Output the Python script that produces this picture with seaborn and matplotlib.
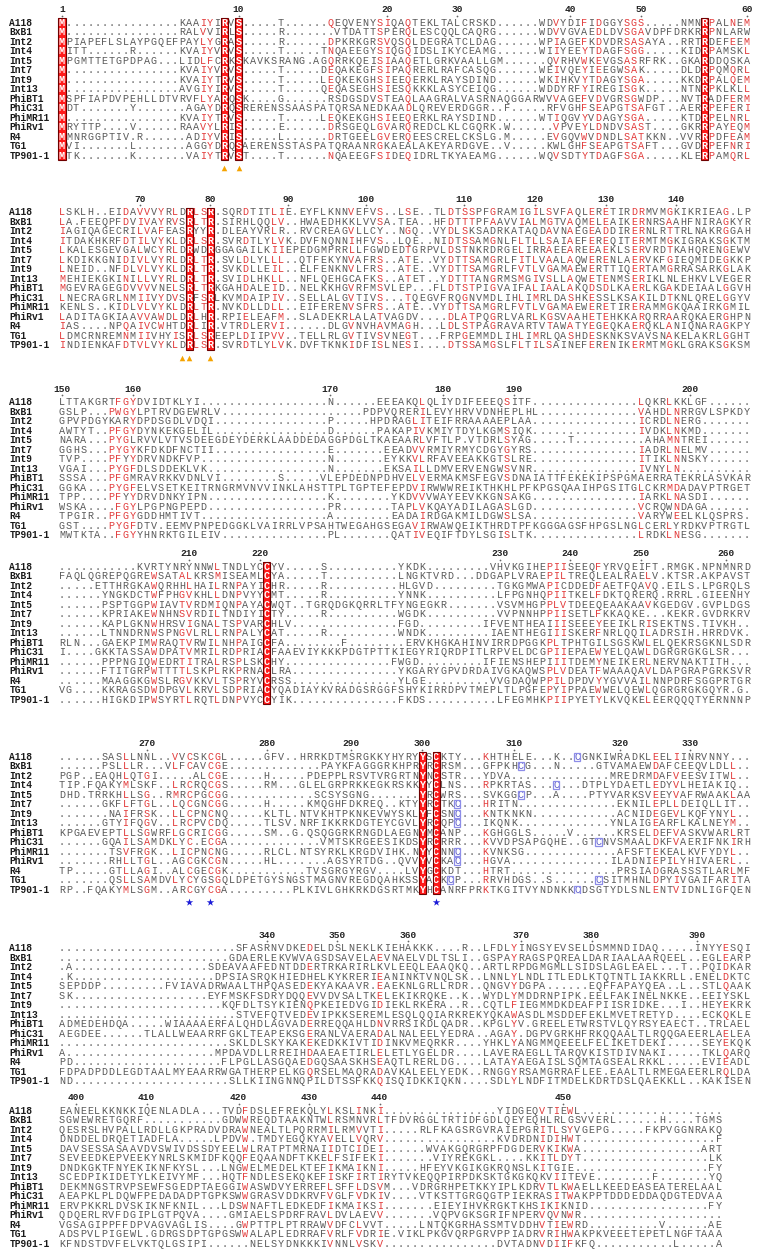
import re
import numpy as np
import pandas as pd
import matplotlib
matplotlib.use("Agg")
import matplotlib.pyplot as plt
from matplotlib.colors import ListedColormap
from matplotlib.patches import Rectangle
import seaborn as sns

# ---------------- data ----------------
NAMES = ["A118", "BxB1", "Int2", "Int4", "Int5", "Int7", "Int9", "Int13",
         "PhiBT1", "PhiC31", "PhiMR11", "PhiRv1", "R4", "TG1", "TP901-1"]

# ".{n}" = run of n gap dots
BLOCK1 = [
    "M.{16}KAAIYIRVS.{5}T.{6}QEQVENYSIQAQTEKLTALCRSKD.{6}WDVYDIFIDGGYSGS.{5}NMNRPALNEM",
    "M.{16}RALVVIRLS.{5}R.{7}VTDATTSPERQLESCQQLCAQRG.{6}WDVVGVAEDLDVSGAVDPFDRKRRPNLARW",
    "MPIAPEFLSLAYPGQEFPAYLYGRAS.{5}R.{6}DPKRKGRSVQSQLDEGRATCLDAG.{6}WPIAGEFKDVDRSASAYA..RRTRDEFEEM",
    "MITT.{6}R.{6}KVAIYVRVS.{5}T.{5}TNQAEEGYSIQGQIDSLIKYCEAMG.{6}WIIYEEYTDAGFSGG.{5}KIDRPAMSKL",
    "MPGMTTETGPDPAG...LIDLFCRKSKAVKSRANG.AGQRRKQEISIAAQETLGRKVAALLGM.{6}QVRHVWKEVGSASRFRK..GKARDDQSKA",
    "M.{16}KVAIYVRVS.{5}T.{5}DEQAKEGFSIPAQRERLRAFCASQG.{6}WEIVQEYIEEGWSAK.{5}DLDRPQMQRL",
    "M.{16}KVAIYTRVS.{5}T.{5}LEQKEKGHSIEEQERKLRAYSDIND.{6}WKIHKVYTDAGYSGA.{5}KKDRPALQEM",
    "M.{16}AVGIYIRVS.{5}T.{5}QEQASEGHSIESQKKKLASYCEIQG.{6}WDDYRFYIREGISGK.{5}NTNRPKLKLL",
    "MSPFIAPDVPEHLLDTVRVFLYARQSK....G.{6}RSDGSDVSTEAQLAAGRALVASRNAQGGARWVVAGEFVDVGRSGWDP...NVTRADFERM",
    "MDT.{7}Y.{7}AGAYDRQSRERENSSAASPATQRSANEDKAADLQREVERDGGR..F.{5}RFVGHFSEAPGTSAFGT..AERRPEFERI",
    "M.{16}KVAIYTRVS.{5}T.{5}LEQKEKGHSIEEQERKLRAYSDIND.{6}WTIQGVYVDAGYSGA.{5}KTDRPELNRL",
    "MRYTTP....V.{6}RAAVYLRIS.{5}E.{6}DRSGEQLGVARQREDCLKLCGQRK.W.{6}VPVEYLDNDVSAST....GKRRPAYEQM",
    "MMNRGGPTIV.R.{6}ADIYVRIS.{5}L.{6}DRTGEELGVERQEESCRELCKSLG.M.{5}EVGQVWVDNDLSATKKN..VVRRPDFEAM",
    "MVI.{7}L.{7}AGGYDRQSAERENSSTASPATQRAANRGKAEALAKEYARDGVE..V.{5}KWLGHFSEAPGTSAFT...GVDRPEFNRI",
    "MTK.{7}K.{7}VAIYTRVST....T.{6}NQAEEGFSIDEQIDRLTKYAEAMG.{6}WQVSDTYTDAGFSGA.{5}KLERPAMQRL",
]
BLOCK2 = [
    "LSKLH..EIDAVVVYRLDRLSR.SQRDTITLIE.EYFLKNNVEFVS..LSE..TLDTSSPFGRAMIGILSVFAQLERETIRDRMVMGKIKRIEAG.LP",
    "LA.FEEQPFDVIVAYRVSRLTR.SIRHLQQLV..HWAEDHKKLVVSA.TEA..HFDTTTPFAAVVIALMGTVAQMELEAIKERNRSAAHFNIRAGKYR",
    "IAGIQAGECRILVAFEASRYYR.DLEAYVRLR..RVCREAGVLLCY..NGQ..VYDLSKSADRKATAQDAVNAEGEADDIRERNLRTTRLNAKRGGAH",
    "ITDAKHKRFDTILVYKLDRLSR.SVRDTLYLVK.DVFNQNNIHFVS..LQE..NIDTSSAMGNLFLTLLSAIAEFEREQITERMTMGKIGRAKSGKTM",
    "LKALESGEVGALWCYRLDRWDRGGAGAILKIIEPEDGMPRRLLFGWDEDTGRPVLDSTNKRDRGELIRRAEEAREEAEKLSERVRDTKAHQRENGEWV",
    "LKDIKKGNIDIVLVYRLDRLTR.SVLDLYLLL..QTFEKYNVAFRS..ATE..VYDTTSAMGRLFITLVAALAQWERENLAERVKFGIEQMIDEGKKP",
    "LNEID..NFDLVLVYKLDRLTR.SVKDLLEIL..ELFENKNVLFRS..ATE..VYDTTSAMGRLFVTLVGAMAEWERTTIQERTAMGRRASARKGLAK",
    "MEHIEKGKINILLVYRLDRLTR.SVIDLHKLL..NFLQEHGCAFKS..ATET..YDTTTANGRMSMGIVSLLAQWETENMSERIKLNLEHKVLVEGER",
    "MGEVRAGEGDVVVVNELSRLTRKGAHDALEID..NELKKHGVRFMSVLEP...FLDTSTPIGVAIFALIAALAKQDSDLKAERLKGAKDEIAALGGVH",
    "LNECRAGRLNMIIVYDVSRFSRLKVMDAIPIV..SELLALGVTIVS...TQEGVFRQGNVMDLIHLIMRLDASHKESSLKSAKILDTKNLQRELGGYV",
    "KENLS..KIDLVLVYKLDRLTR.NVKDLLDLL..EIFERENVSFRS..ATE..VYDTTSAMGRLFVTLVGAMAEWERETIRERAMMGKQAAIRKGMIL",
    "LADITAGKIAAVVAWDLDRLHR.RPIELEAFM..SLADEKRLALATVAGDV....DLATPQGRLVARLKGSVAAHETEHKKARQRRAARQKAERGHPN",
    "IAS....NPQAIVCWHTDRLIR.VTRDLERVI......DLGVNVHAVMAGH...LDLSTPAGRAVARTVTAWATYEGEQKAERQKLANIQNARAGKPY",
    "LDMCRNREMNMIIVHYISRLSREEPLDIIPVV..TELLRLGVTIVSVNEGT...FRPGEMMDLIHLIMRLQASHDESKNKSVAVSNAKELAKRLGGHT",
    "INDIENKAFDTVLVYKLDRLSR.SVRDTLYLVK.DVFTKNKIDFISLNESI....DTSSAMGSLFLTILSAINEFERENIKERMTMGKLGRAKSGKSM",
]
BLOCK3 = [
    "LTTAKGRTFGYDVIDTKLYI.{18}N.{6}EEEAKQLQLIYDIFEEEQSITF.{15}LQKRLKKLGF.{6}",
    "GSLP...PWGYLPTRVDGEWRLV.{20}PDPVQRERILEVYHRVVDNHEPLHL.{14}VAHDLNRRGVLSPKDY",
    "GPVPDGYKARYDPDSGDLVDQI.{16}P.{5}HPDRAGLITEIFRRAAAAEPLAA.{15}ICRDLNERG.{7}",
    "AWTYT..PFGYDYNKEKGELIL.{16}D.{6}PAKAPIVKMIYTDYLKGMSIQK.{15}IVDKLNKMD.{7}",
    "NARA...PYGLRVVLVTVSDEEGDEYDERKLAADDEDAGGPDGLTKAEAARLVFTLP.VTDRLSYAG.{5}T.{10}AHAMNTREI.{6}",
    "GGHS...PYGYKFDKDFNCTII.{16}E.{7}EEADVVRMIYRMYCDGYGYRS.{15}IADRLNELMV.{6}",
    "TVP....PFYYDRVNDKFVP.{18}N.{7}EYKKVLRFAVEEAKKGTSLRE.{15}ITIKLNNSKY.{6}",
    "VGAI...PYGFDLSDDEKLVK.{17}N.{7}EKSAILLDMVERVENGWSVNR.{15}IVNYLN.{10}",
    "SSSA...PFGMRAVRKKVDNLVI.{8}S.{5}VLEPDEDNPDHVELVERMAKMSFEGVSDNAIATTFEKEKIPSPGMAERRATEKRLASVKAR",
    "GGKA...PYGFELVSETKEITRNGRMVNVVINKLAHSTTPLTGPTEFEPDVIRWWWREIKTHKHLPFKPGSQAAIHPGSITGLCKRMDADAVPTRGET",
    "TPP....PFYYDRVDNKYIPN.{17}K.{8}YKDVVVWAYEEVKKGNSAKG.{15}IARKLNASDI.{6}",
    "WSKA....FGYLPGPNGPEPD.{17}PR.{7}TAPLVKQAYADILAGASLGD.{15}VCRQWNDAGA.{6}",
    "TPGIR..PFGYGDDHMTIVT.{18}A.{8}EADAIRDGAKMILDGWSLSA.{15}VARYWEELKLQSPRS.",
    "GST....PYGFDTV.EEMVPNPEDGGKLVAIRRLVPSAHTWEGAHGSEGAVIRWAWQEIKTHRDTPFKGGGAGSFHPGSLNGLCERLYRDKVPTRGTL",
    "MWTKTA..FGYYHNRKTGILEIV.{15}PL.{7}QATIVEQIFTDYLSGISLTK.{15}LRDKLNESG.{7}",
]
BLOCK4 = [
    ".{11}KVRTYNRYNNWLTNDLYCCYV.{5}S.{10}YKDK.{9}VHVKGIHEPIISEEQFYRVQEIFT.RMGK.NPNMNRD",
    "FAQLQGREPQGREWSATALKRSMISEAMLCYA.{5}T.{10}LNGKTVRD...DDGAPLVRAEPILTREQLEALRAELV.KTSR.AKPAVST",
    ".{5}ETTHRGKAWQRHHLHAILRNPAYICHR.{5}R.{10}HLGVD.{9}TGKGMWAPICDDEDFAETFQAVQ.EILS.LPGRQLS",
    ".{6}YNGKDCTWFPHGVKHLLDNPVYYCMT.{5}R.{10}YNNK.{10}LFPGNHQPIITKELFDKTQRERQ.RRRL.GIEENHY",
    ".{6}PSPTGGPWIAVTVRDMIQNPAYACWQT..TGRQDGKQRRLTFYNGEGKR.{7}VSVMHGPPLVTDEEQEAAKAAVKGEDGV.GVPLDGS",
    ".{6}KPRIAKEWNHNSVRDILTNDIYICTY.{5}R.{10}WGDK.{10}VVPNNHPPIISETLFKKAQKE...KEKR.GVDRKRV",
    ".{6}KAPLGKNWHRSVIGNALTSPVARCHLV.{15}FGD.{9}IFVENTHEAIIISEEEYEEIKLRISEKTNS.TIVKH..",
    ".{6}LTNNDRNWSPNGVLRLLRNPALYCAT.{5}R.{10}WNDK.{9}IAENTHEGIIISKERFNRLQQILADRSIH.HRRDVK.",
    "RLN...GAEKPIMWRAQTVRWILNHPAIGCFA.{8}F.{8}ERVKHGKAHINVIRRDPGGKPLTPHTGILSGSKWLELQEKRSGKNLSDR",
    "I....GKKTASSAWDPATVMRILRDPRIACFAAEVIYKKKPDGTPTTKIEGYRIQRDPITLRPVELDCGPIIEPAEWYELQAWLDGRGRGKGLSR...",
    ".{6}PPPNGIQWEDRTITRALRSPLSKCHY.{15}FWGD.{9}IFIENSHEPIIITDEMYNEIKERLNERVNAKTITH...",
    ".{6}FTITGRPWTTTTLSKPLRKPRNACLRA.{15}YKGARYGPVDRDAIVGKAQWSPLVDEATFWAAAQAVLDAPGRAPGRKSVR",
    ".{6}MAAGGKGWSLRGVKKVLTSPRYVCRSS.{15}YLGE.{9}VVGDAQWPPILDPDVYYGVVAILNNPDRFSGGPRTGR",
    "VG....KKRAGSDWDPGVLKRVLSDPRIACYQADIAYKVRADGSRGGFSHYKIRRDPVTMEPLTLPGFEPYIPPAEWWELQEWLQGRGRGKGQYR.G.",
    ".{6}HIGKDIPWSYRTLRQTLDNPVYCCYIK.{15}FKDS.{10}LFEGMHKPIIPYETYLKVQKELEERQQQTYERNNNP",
]
BLOCK5 = [
    ".{6}SASLLNNL..VVCSKCGL.{5}GFV..HRRKDTMSRGKKYHYRYYSCKTY...KHTHELE...K..CGNKIWRADKLEELIINRVNNY...",
    ".{6}PSLLLR...VLFCAVCGE.{13}PAYKFAGGGRKHPRYRCRSM...GFPKHCG...N.{5}GTVAMAEWDAFCEEQVLDLL..",
    "PGP..EAQHLQTGI.{5}ALCGE.{5}H.{5}PDEPPLRSVTVRGRTNYNCSTR...YDVA.{14}MREDRMDAFVEESVITWL..",
    "TIP.FQAKYMLSKF..LRCRQCGS.{5}RM...GLELGRPRKKEGKRSKKYYCLNS...RPKRTAS...C...DTPLYDAETLEDYVLHEIAKIQ..",
    "DHD.TRRKHLLSG..RMRCPGCGG.{12}SCSYSGNG.{7}YRCWRS...SVKGGCP...A....PTYVARKSVEEYVAFRWAAKLAA",
    ".{6}GKFLFTGL..LQCGNCGG.{5}H.{5}KMQGHFDKREQ..KTYYRCTKC...HRITN.{14}EKNILEPLLDEIQLLIT..",
    ".{7}NAIFRSK..LLCPNCNQ.{5}KLTL.NTVKHTPKNKEVWYSKLYFCSNC...KNTKNKN.{12}ACNIDEGEVLKQFYNYL..",
    ".{6}GTYIFQGV..LRCPVCDQ.{5}TLSV.NRFIKKRKDGTEYCGVLYRCQPC...IKQNK.{13}YNLAIGEARFLKALNEYM..",
    "KPGAEVEPTLLSGWRFLGCRICGG.{5}SM..G.QSQGGRKRNGDLAEGNYMCANP...KGHGGLS.{5}V.{6}KRSELDEFVASKVWARLRT",
    ".{6}GQAILSAMDKLYC.ECGA.{13}VMTSKRGEESIKDSYRCRRR...KVVDPSAPGQHE..GTCNVSMAALDKFVAERIFNKIRH",
    ".{7}TSVFRGK..LICPNCNG.{5}RLCL.NTSYRKLKRGDVIHK.NYYCNNC...KVNKSG.{13}AFSFTEKEALKVFYDYL..",
    ".{7}RHLLTGL..AGCGKCGN.{5}HL.{7}AGSYRTDG..QVVYVCKAC...HGVA.{14}ILADNIEPILYHIVAERL..",
    "TP.{5}GTLLAGI..ALCGECGK.{11}TVSGRGYRGV....LVYGCKDT...HTRT.{15}PRSIADGRASSSTLARLMF",
    ".{7}QSLLSAMDVLYCYGSGQLDPETGYSNGSTMAGNVREGDQAHKSSYACKCP...RRVHDGS..S.{6}CSITMHNLDPYIVGAIFARITA",
    "RP..FQAKYMLSGM..ARCGYCGA.{9}PLKIVLGHKRKDGSRTMKYHCANRFPRKTKGITVYNDNKKCDSGTYDLSNLENTVIDNLIGFQEN",
]
BLOCK6 = [
    ".{25}SFASRNVDKEDELDSLNEKLKIEHAKKK....R..LFDLYINGSYEVSELDSMMNDIDAQ.{5}INYYESQI",
    ".{24}GDAERLEKVWVAGSDSAVELAEVNAELVDLTSLI..GSPAYRAGSPQREALDARIAALAARQEEL..EGLEARP",
    ".A.{19}SDEAVAAFEDNTDDERTRKARIRLKVLEEQLEAAQKQ..ARTLRPDGMGMLLSIDSLAGLEAEL...T..PQIDKAR",
    ".K.{20}DPSIASRQKHIEDHELKYKRERIEANINKTVNQLSK..LNNLYLNDLITLEDLKTQTNTLIAKKRLL.ENELDKTC",
    "SEPDDP.{9}FVIAVADRWAALTHPQASEDEKYAKAAVR.EAEKNLGRLLRDR..QNGVYDGPA.{6}EQFFAPAYQEA..L..STLQAAK",
    "SK.{19}EYFMSKFSDRYDQQEVVDVSALTKELEKIKRQKE..K..WYDLYMDDRNPIPK.EELFAKINELNKKE..EEIYSKL",
    ".{23}KQFDLTSYKIENQPKEIEDVGIDIEKLRKERA..R..CQTLFIEGMMDKDEAFPIISRIDKE...I..HEYEKRK",
    ".{25}STVEFQTVEDEVIPKKSEREMLESQLQQIARKREKYQKAWASDLMSDDEFEKLMVETRETYD....ECKQKLE",
    "ADMEDEHDQA.{5}WIAAAAERFALQHDLAGVADERREQQAHLDNVRRSIKDLQADR..KPGLYV.GREELETWRSTVLQYRSYEAECT..TRLAEL",
    "AEGDEE.{6}TLALLWEAARRFGKLTEAPEKSGERANLVAERADALNALEELYEDRA..AGAY.DGPVGRKHFRKQQAALTLRQQGAEERLAELEA",
    ".{24}SKLDLSKYKAKEKEDKKIVTIDINKVMEQRKR....YHKLYANGMMQEEELFELIKETDEKI.{5}SEYEKQK",
    "A.{21}MPDAVDLLRREIHDAAEAETIRLELETLYGELDR....LAVERAEGLLTARQVKISTDIVNAKI.{5}TKLQARQ",
    "PD.{21}FLPGLLASGQAEDGQSAASKHSEAQTLRERLDG....LATAYAEGAISLSQMTAGSEALRKKL.{5}EVIEADL",
    "FDPADPDDLEGDTAALMYEAARRWGATHERPELKGQRSELMAQRADAVKALEELYEDK..RNGGYRSAMGRRAFLEE.EAALTLRMEGAEERLRQLDA",
    "ND.{22}SLLKIINGNNQPILDTSSFKKQISQIDKKIQKN....SDLYLNDFITMDELKDRTDSLQAEKKLL..KAKISEN",
]
BLOCK7 = [
    "EANEELKKNKKIQENLADLA...TVDFDSLEFREKQLYLKSLINKI.{16}YIDGEQVTIEWL.{20}",
    "SGWEWRETGQRF.{11}GDWWREQDTAAKNTWLRSMNVRLTFDVRGGLTRTIDFGDLQEYEQHLRLGSVVERL.{6}H....TGMS",
    "QESRSLHVPALLRDLLGKPRADVDRAWNEALTLPQRRMILRMVVTI.{5}RLFKAGSRGVRAIEPGRITLSYVGEPG.{5}FKPVGGNRAKQ",
    "DNDDELDRQETIADFLA.{5}LPDVW.TMDYEGQKYAVELLVQRV.{16}KVDRDNIDIHWT.{19}F",
    "DAVSESSASAAVDVSWIVDSSDYEELWLRATPTMRNAIIDTCIDEI.{6}WVAKGQRGRPFDGDERVKIKWA.{17}ART",
    "SEVEEDKEPVEEKYNRLSKMIDFKQQFEQAANDFTKKELFSIFEKI.{7}VIYREKGKL....KKITLDYT.{18}LK",
    "DNDKGKTFNYEKIKNFKYSL...LNGWELMEDELKTEFIKMAIKNI.{5}HFEYVKGIKGKRQNSLKITGIE.{19}FY",
    "SCEDPIKIDETYLKEIVYMF...HQTFNDLESEKQKEFISKFIRTIRYTVKEQQPIRPDKSKTGKGKQKVIITEVE.{8}F.{7}YQ",
    "DEKMNGSTRVPSEWFSGEDPTAEGGIWASWDVYERREFLSFFLDSVM...VDRGRHPETKKYIPLKDRVTLKWAELLKEEDEASEATERELAAL",
    "AEAPKLPLDQWFPEDADADPTGPKSWWGRASVDDKRVFVGLFVDKIV....VTKSTTGRGQGTPIEKRASITWAKPPTDDDEDDAQDGTEDVAA",
    "ERVPKKRLDVSKIKNFKNIL...LDSWNAFTLEDKEDFIKMAIKSI.{7}EIEYIHVKRGKTKHSIKIKNID.{17}FY",
    "QDQERLRVFDGIPLGTPQVA....GMIAELSPDRFRAVLDVLAEVV.{7}VQPVGKSGRIFNPERVQVNWR.{20}",
    "VGSAGIPPFFDPVAGVAGLIS....GWPTTPLPTRRAWVDFCLVVT.{5}LNTQKGRHASSMTVDDHVTIEWRD.{10}V.{6}AE",
    "ADSPVLPIGEWL.GDRGSDPTGPGSWWALAPLEDRRAFVRLFVDRIE.VIKLPKGVQRPGRVPPIADRVRIHWAKPKVEEETEPETLNGFTAAA",
    "KFNDSTDVFELVKTQLGSIPI.{6}NELSYDNKKKIVNNLVSKV.{16}DVTADNVDIIFKFQ.{11}L.{5}A",
]
BLOCKS = [BLOCK1, BLOCK2, BLOCK3, BLOCK4, BLOCK5, BLOCK6, BLOCK7]
BLOCK_WIDTHS = [98, 98, 98, 98, 98, 98, 94]

# annotation marks below blocks: block index -> alignment columns
TRIANGLE_COLS = {0: [23, 25], 1: [17, 18, 21]}
STAR_COLS = {4: [18, 21, 53]}
# framed cysteines: block index -> (row, column)
CYS_BOXES = {4: [(0, 73), (1, 65), (3, 70), (4, 65), (5, 56), (6, 56), (7, 56),
                 (9, 76), (10, 56), (11, 56), (13, 55), (13, 76), (14, 73)]}

SIM_GROUPS = ["ILVM", "FYW", "KRH", "DENQ", "STAG", "P", "C"]


def expand(s):
    return re.sub(r"\.\{(\d+)\}", lambda m: "." * int(m.group(1)), s)


# ---------------- layout (pixels) ----------------
FIG_W, FIG_H = 761, 1254
CELL_W, CELL_H = 7.06, 9.5
X_FIRST = 62.0
ROW0_Y = [22.7, 212.3, 402.3, 566.7, 756.7, 948.3, 1110.7]
NAME_X = 9.3

sns.set_theme(style="white")
plt.rcParams["font.family"] = ["Liberation Mono", "DejaVu Sans Mono"]

fig = plt.figure(figsize=(FIG_W / 100, FIG_H / 100), dpi=100)
fig.patch.set_facecolor("white")

residue_no = 0
for b, block in enumerate(BLOCKS):
    ncol = BLOCK_WIDTHS[b]
    seqs = [expand(s).ljust(ncol, ".")[:ncol] for s in block]
    grid = np.array([list(s) for s in seqs])
    nrow = grid.shape[0]

    box = np.zeros(grid.shape)
    red = np.zeros(grid.shape, dtype=bool)
    box_cols = []
    for c in range(ncol):
        col = grid[:, c]
        if "." not in col and len(set(col)) == 1:
            box[:, c] = 1
            box_cols.append(c)
            continue
        counts = [sum(ch in g for ch in col) for g in SIM_GROUPS]
        gi = int(np.argmax(counts))
        if counts[gi] / nrow >= 0.7:
            red[:, c] = [ch in SIM_GROUPS[gi] for ch in col]

    left = (X_FIRST - CELL_W / 2) / FIG_W
    top = ROW0_Y[b] - CELL_H / 2
    ax = fig.add_axes([left, 1 - (top + nrow * CELL_H) / FIG_H,
                       ncol * CELL_W / FIG_W, nrow * CELL_H / FIG_H])
    sns.heatmap(pd.DataFrame(box, index=NAMES), ax=ax,
                cmap=ListedColormap(["white", "#ff1a1a"]), vmin=0, vmax=1,
                cbar=False, annot=grid, fmt="",
                annot_kws={"fontsize": 7.3, "family": "Liberation Mono"},
                xticklabels=False, yticklabels=NAMES, linewidths=0)

    cys = set(CYS_BOXES.get(b, []))
    for t in ax.texts:
        x, y = t.get_position()
        c, r = int(x), int(y)
        if box[r, c]:
            t.set_color("white")
            t.set_fontweight("bold")
        elif (r, c) in cys:
            t.set_color("#5c5cc8")
        elif red[r, c]:
            t.set_color("#e23b3b")
        else:
            t.set_color("#5a5a5a")

    for c in box_cols:
        ax.add_patch(Rectangle((c, 0), 1, nrow, fill=False, edgecolor="#6e0000",
                               lw=0.8, zorder=4, clip_on=False))
    for (r, c) in cys:
        ax.add_patch(Rectangle((c + 0.06, r + 0.06), 0.88, 0.88, fill=False,
                               edgecolor="#8c8ce8", lw=0.9, zorder=4))

    # ruler numbering from the first sequence
    ticks, labels = [], []
    for c, ch in enumerate(grid[0]):
        if ch != ".":
            residue_no += 1
            if residue_no == 1 or residue_no % 10 == 0:
                ticks.append(c + 0.5)
                labels.append(str(residue_no))
    ax.set_xticks(ticks)
    ax.set_xticklabels(labels, fontsize=6.8, fontweight="bold", color="#222222",
                       rotation=0)
    ax.tick_params(axis="x", top=True, bottom=False, labeltop=True,
                   labelbottom=False, length=0, pad=2.9)
    # small dot under each ruler number
    ax.scatter(ticks, np.full(len(ticks), -0.24), s=1.6, marker="o",
               color="#666666", linewidths=0, clip_on=False, zorder=5)

    ax.set_yticks(np.arange(nrow) + 0.5)
    ax.set_yticklabels(NAMES, fontsize=6.9, fontweight="bold", color="#1a1a1a",
                       rotation=0, ha="left")
    ax.tick_params(axis="y", left=False, length=0,
                   pad=(X_FIRST - CELL_W / 2 - NAME_X) * 0.72)

    if b in TRIANGLE_COLS:
        cols = np.array(TRIANGLE_COLS[b]) + 0.5
        ax.scatter(cols, np.full(len(cols), nrow + 0.8), marker="^", s=16,
                   color="#f5a300", linewidths=0, clip_on=False, zorder=5)
    if b in STAR_COLS:
        cols = np.array(STAR_COLS[b]) + 0.5
        ax.scatter(cols, np.full(len(cols), nrow + 0.75), marker="*", s=32,
                   color="#1c1cd8", linewidths=0, clip_on=False, zorder=5)

fig.savefig("out.png", dpi=100, facecolor="white")
